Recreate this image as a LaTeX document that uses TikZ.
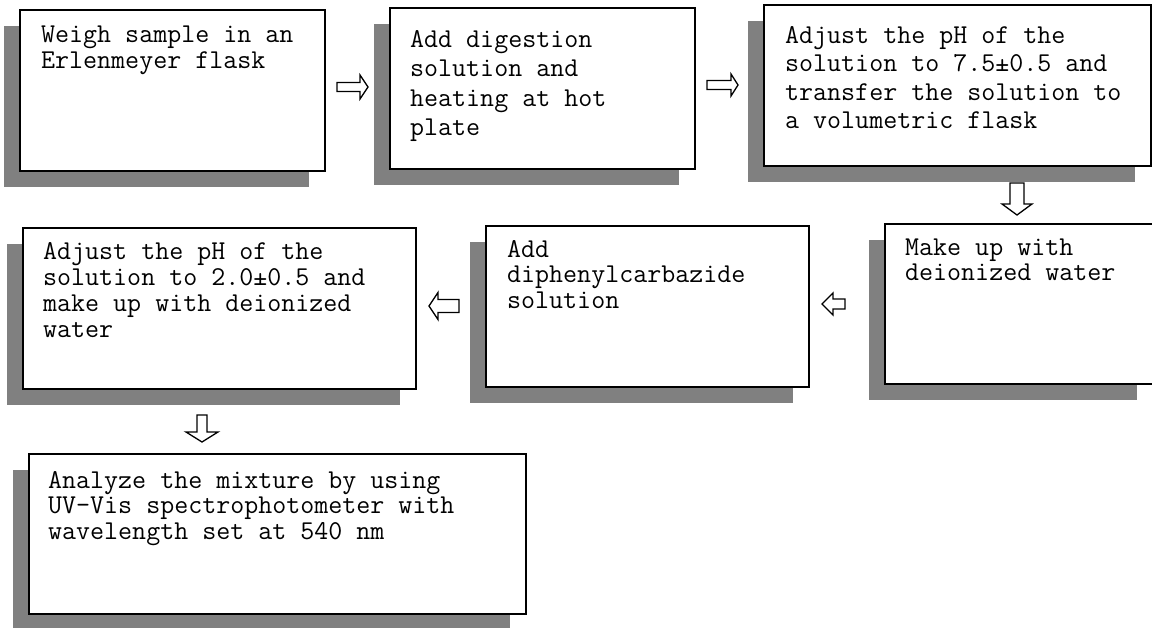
\documentclass[tikz,border=0pt]{standalone}
\usepackage{fontspec}
\usetikzlibrary{shadows}
\definecolor{shadowgray}{RGB}{128,128,128}
\tikzset{
  box/.style={draw=black, line width=1.6pt, fill=white, anchor=north west, inner sep=0pt,
    drop shadow={shadow xshift=-16pt, shadow yshift=-16pt, fill=shadowgray, opacity=1}},
  txt/.style={anchor=north west, inner sep=0pt, align=left},
  blk/.style={draw=black, line width=1.3pt, fill=white, line join=miter}
}
\newcommand{\fs}[1]{\ttfamily\fontsize{27.2}{#1}\selectfont}
\newcommand{\sr}{\rule{0pt}{20pt}}
\begin{document}
\begin{tikzpicture}[x=1pt,y=-1pt]
\useasboundingbox (0,0) rectangle (1152,628);
% boxes
\node[box, minimum width=305pt, minimum height=161pt] (b1) at (19,9) {};
\node[box, minimum width=305pt, minimum height=161pt] (b2) at (389,7) {};
\node[box, minimum width=387pt, minimum height=161pt] (b3) at (763,4) {};
\node[box, minimum width=393pt, minimum height=161pt] (b4) at (22,227) {};
\node[box, minimum width=323pt, minimum height=161pt] (b5) at (485,225) {};
\node[box, minimum width=268pt, minimum height=160pt] (b6) at (884,223) {};
\node[box, minimum width=497pt, minimum height=160pt] (b7) at (28,453) {};
% texts
\node[txt, font=\fs{26.5}] (t1) at (41,22) {\sr Weigh sample in an\\Erlenmeyer flask};
\node[txt, font=\fs{29.5}] (t2) at (410,27) {\sr Add digestion\\solution and\\heating at hot\\plate};
\node[txt, font=\fs{28.5}] (t3) at (785,23) {\sr Adjust the pH of the\\solution to 7.5±0.5 and\\transfer the solution to\\a volumetric flask};
\node[txt, font=\fs{25}] (t6) at (905,235.5) {\sr Make up with\\deionized water};
\node[txt, font=\fs{25.5}] (t5) at (507,237) {\sr Add\\diphenylcarbazide\\solution};
\node[txt, font=\fs{26}] (t4) at (43,239) {\sr Adjust the pH of the\\solution to 2.0±0.5 and\\make up with deionized\\water};
\node[txt, font=\fs{25.5}] (t7) at (48,468) {\sr Analyze the mixture by using\\UV-Vis spectrophotometer with\\wavelength set at 540 nm};
% block arrows
\coordinate (a1) at (337,87);
\draw[blk] (a1) ++(0,-4.5) -- ++(23,0) -- ++(0,-7.5) -- ++(8,12) -- ++(-8,12) -- ++(0,-7.5) -- ++(-23,0) -- cycle;
\coordinate (a2) at (707,85);
\draw[blk] (a2) ++(0,-4.5) -- ++(24,0) -- ++(0,-6.5) -- ++(7,11) -- ++(-7,11) -- ++(0,-6.5) -- ++(-24,0) -- cycle;
\coordinate (a3) at (1017,183);
\draw[blk] (a3) ++(-7,0) -- ++(0,21) -- ++(-8,0) -- ++(15,11) -- ++(15,-11) -- ++(-8,0) -- ++(0,-21) -- cycle;
\coordinate (a4) at (845,304);
\draw[blk] (a4) ++(0,-5) -- ++(-12,0) -- ++(0,-6) -- ++(-11,11) -- ++(11,11) -- ++(0,-6) -- ++(12,0) -- cycle;
\coordinate (a5) at (459,306);
\draw[blk] (a5) ++(0,-6.5) -- ++(-21,0) -- ++(0,-7) -- ++(-9,13.5) -- ++(9,13.5) -- ++(0,-7) -- ++(21,0) -- cycle;
\coordinate (a6) at (202,415);
\draw[blk] (a6) ++(-5,0) -- ++(0,17) -- ++(-11,0) -- ++(16,10) -- ++(16,-10) -- ++(-11,0) -- ++(0,-17) -- cycle;
\end{tikzpicture}
\end{document}
